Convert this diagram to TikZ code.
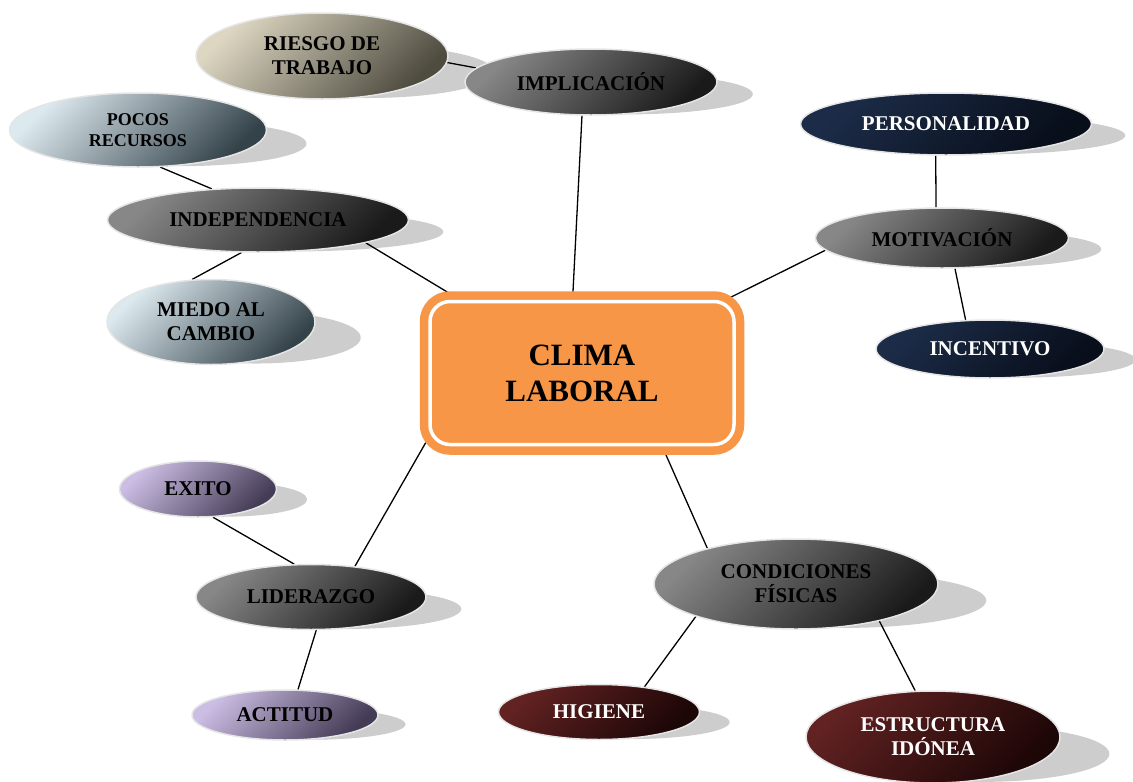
\documentclass[tikz,border=0pt]{standalone}
\usepackage{fontspec}
\setmainfont{Liberation Serif}
\usepackage{xcolor}
\usepackage{tikz}
\usetikzlibrary{shapes.geometric,calc,backgrounds}

\definecolor{climaorange}{HTML}{F79646}
\definecolor{greyA}{HTML}{878787}
\definecolor{greyB}{HTML}{1A1A1A}
\definecolor{tanA}{HTML}{DDD7C2}
\definecolor{tanB}{HTML}{4E4B3F}
\definecolor{iceA}{HTML}{DCE9EF}
\definecolor{iceB}{HTML}{34424A}
\definecolor{navyA}{HTML}{1C2C48}
\definecolor{navyB}{HTML}{080E1A}
\definecolor{lilacA}{HTML}{CBBDE3}
\definecolor{lilacB}{HTML}{443B55}
\definecolor{wineA}{HTML}{622222}
\definecolor{wineB}{HTML}{1C0606}
\definecolor{shadowgrey}{HTML}{CDCDCD}

\begin{document}
\begin{tikzpicture}[x=1pt, y=-1pt]
    % Styles
    \tikzstyle{bubble} = [ellipse, draw=white!90!black, line width=1.5pt, inner sep=0pt, align=center, font=\bfseries\fontsize{21}{24}\selectfont]
    \tikzstyle{greyb} = [bubble, top color=greyA, bottom color=greyB, shading angle=45]
    \tikzstyle{tanb} = [bubble, top color=tanA, bottom color=tanB, shading angle=45]
    \tikzstyle{iceb} = [bubble, top color=iceA, bottom color=iceB, shading angle=45]
    \tikzstyle{navyb} = [bubble, top color=navyA, bottom color=navyB, shading angle=45, text=white]
    \tikzstyle{lilacb} = [bubble, top color=lilacA, bottom color=lilacB, shading angle=45]
    \tikzstyle{wineb} = [bubble, top color=wineA, bottom color=wineB, shading angle=45, text=white]
    \tikzstyle{mainbox} = [rectangle, rounded corners=20pt, fill=climaorange, draw=climaorange, double=white, double distance=3.5pt, line width=8.5pt, minimum width=304pt, minimum height=143pt, align=center, font=\bfseries\fontsize{31}{36}\selectfont]
    \tikzstyle{dropshade} = [fill=shadowgrey]
    \tikzstyle{connect} = [line width=1.3pt, black]

    \useasboundingbox (0,0) rectangle (1133,782);

    % Nodes
    \node [mainbox] (clima) at (582,373) {CLIMA\\LABORAL};

    \node [tanb, minimum width=252pt, minimum height=86pt] (riesgo) at (322,56) {RIESGO DE\\TRABAJO};
    \node [greyb, minimum width=252pt, minimum height=66pt] (impl) at (591,82) {IMPLICACIÓN};
    \node [iceb, minimum width=257pt, minimum height=74pt, font=\bfseries\fontsize{18}{21}\selectfont] (pocos) at (138,130) {POCOS\\RECURSOS};
    \node [greyb, minimum width=301pt, minimum height=64pt] (indep) at (258,220) {INDEPENDENCIA};
    \node [iceb, minimum width=208pt, minimum height=85pt] (miedo) at (211,322) {MIEDO AL\\CAMBIO};

    \node [navyb, minimum width=291pt, minimum height=62pt] (perso) at (946,124) {PERSONALIDAD};
    \node [greyb, minimum width=253pt, minimum height=60pt] (motiv) at (942,238) {MOTIVACIÓN};
    \node [navyb, minimum width=228pt, minimum height=58pt] (incent) at (990,349) {INCENTIVO};

    \node [lilacb, minimum width=157pt, minimum height=56pt] (exito) at (198,489) {EXITO};
    \node [greyb, minimum width=230pt, minimum height=65pt] (lider) at (311,597) {LIDERAZGO};
    \node [lilacb, minimum width=186pt, minimum height=50pt] (actitud) at (285,715) {ACTITUD};

    \node [greyb, minimum width=284pt, minimum height=90pt] (condic) at (796,584) {CONDICIONES\\FÍSICAS};
    \node [wineb, minimum width=201pt, minimum height=55pt] (higiene) at (599,712) {HIGIENE};
    \node [wineb, minimum width=254pt, minimum height=92pt] (estruc) at (933,737) {ESTRUCTURA\\IDÓNEA};

    \begin{pgfonlayer}{background}
        % Shadows
        \foreach \b in {riesgo,impl,pocos,indep,miedo,perso,motiv,incent,exito,lider,actitud,condic,higiene,estruc}
            \fill[dropshade] let \p1 = ($(\b.east)-(\b.west)$), \p2 = ($(\b.north)-(\b.south)$) in
                ([shift={({0.52*\y2},{-0.18*\y2})}]\b.center) ellipse ({0.5*\x1} and {0.3*\y2});

        % Connections
        \draw[connect] (riesgo.-3) -- (impl.173);
        \draw[connect] (impl.-105) -- (clima.97);
        \draw[connect] (pocos.-59) -- (indep.146);
        \draw[connect] (indep.-117) -- (miedo.114);
        \draw[connect] (indep.-12) -- (clima.149);
        \draw[connect] (perso.-108) -- (motiv.101);
        \draw[connect] (motiv.-67) -- (incent.130);
        \draw[connect] (motiv.186) -- (clima.27);
        \draw[connect] (clima.204) -- (lider.35);
        \draw[connect] (exito.-62) -- (lider.117);
        \draw[connect] (lider.-81) -- (actitud.63);
        \draw[connect] (clima.-43) -- (condic.158);
        \draw[connect] (condic.-162) -- (higiene.29);
        \draw[connect] (condic.-24) -- (estruc.111);
    \end{pgfonlayer}
\end{tikzpicture}
\end{document}
